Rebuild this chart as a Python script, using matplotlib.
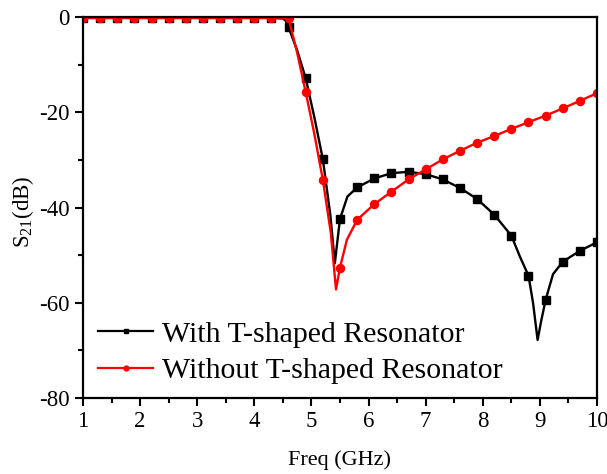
import numpy as np
import matplotlib
matplotlib.use("Agg")
import matplotlib.pyplot as plt
from matplotlib.lines import Line2D
from matplotlib.ticker import MultipleLocator

plt.rcParams['font.family'] = ['Liberation Serif', 'DejaVu Serif']
plt.rcParams['mathtext.fontset'] = 'custom'
plt.rcParams['mathtext.rm'] = 'Liberation Serif'
plt.rcParams['axes.unicode_minus'] = False

# Marker positions (GHz)
marker_freq = [1.0, 1.3, 1.6, 1.9, 2.2, 2.5, 2.8, 3.1, 3.4, 3.7, 4.0, 4.3,
               4.6, 4.9, 5.2, 5.5, 5.8, 6.1, 6.4, 6.7, 7.0, 7.3, 7.6, 7.9,
               8.2, 8.5, 8.8, 9.1, 9.4, 9.7, 10.0]

# With T-shaped resonator (including dips)
black_freq = [1.0, 1.3, 1.6, 1.9, 2.2, 2.5, 2.8, 3.1, 3.4, 3.7, 4.0, 4.3,
              4.5, 4.55, 4.6, 4.75, 4.9, 5.05, 5.2, 5.33, 5.41, 5.45, 5.5,
              5.63, 5.8, 6.1, 6.4, 6.7, 7.0, 7.3, 7.6, 7.9, 8.2, 8.5, 8.65,
              8.8, 8.88, 8.96, 9.02, 9.1, 9.23, 9.4, 9.7, 10.0]
black_db = [-0.2, -0.2, -0.2, -0.2, -0.2, -0.2, -0.2, -0.2, -0.2, -0.2, -0.2, -0.2,
            -0.3, -0.8, -2.2, -7.0, -12.9, -21.0, -29.9, -41.5, -51.7, -47.5, -42.4,
            -37.7, -35.8, -33.9, -32.8, -32.5, -33.0, -34.1, -35.9, -38.2, -41.5, -45.9, -50.3,
            -54.3, -60.0, -67.8, -64.0, -59.4, -54.0, -51.4, -49.1, -47.3]

# Without T-shaped resonator
red_freq = [1.0, 1.3, 1.6, 1.9, 2.2, 2.5, 2.8, 3.1, 3.4, 3.7, 4.0, 4.3,
            4.6, 4.75, 4.9, 5.05, 5.2, 5.34, 5.43, 5.5, 5.62, 5.8, 6.1, 6.4,
            6.7, 7.0, 7.3, 7.6, 7.9, 8.2, 8.5, 8.8, 9.1, 9.4, 9.7, 10.0]
red_db = [-0.2, -0.2, -0.2, -0.2, -0.2, -0.2, -0.2, -0.2, -0.2, -0.2, -0.2, -0.2,
          -0.3, -7.5, -15.8, -24.5, -34.2, -45.4, -57.2, -52.6, -46.8, -42.6, -39.3, -36.7,
          -34.1, -32.0, -29.9, -28.1, -26.4, -25.0, -23.5, -22.1, -20.7, -19.2, -17.6, -16.0]

labels = ["With T-shaped Resonator", "Without T-shaped Resonator"]
x_ticks = [1, 2, 3, 4, 5, 6, 7, 8, 9, 10]
y_ticks = [0, -20, -40, -60, -80]

fig = plt.figure(figsize=(6.07, 4.74), dpi=100)
ax = fig.add_axes([83/607, 1-398/474, 514/607, 381/474])

bmask = np.isin(np.round(black_freq, 2), np.round(marker_freq, 2))
rmask = np.isin(np.round(red_freq, 2), np.round(marker_freq, 2))

ax.plot(black_freq, black_db, color='black', lw=1.7, marker='s', ms=5.3,
        markevery=list(bmask))
ax.plot(red_freq, red_db, color='#ff0000', lw=1.7, marker='o', ms=5.8,
        markevery=list(rmask))

ax.set_xlim(1, 10)
ax.set_ylim(-80, 0)
ax.set_xticks(x_ticks)
ax.set_yticks(y_ticks)
ax.xaxis.set_minor_locator(MultipleLocator(0.5))
ax.yaxis.set_minor_locator(MultipleLocator(10))
ax.tick_params(which='both', direction='out', width=1.5, labelsize=16.5,
               top=False, right=False)
ax.tick_params(which='major', length=6)
ax.tick_params(which='minor', length=3.5)
for s in ax.spines.values():
    s.set_linewidth(1.6)

ax.set_xlabel("Freq (GHz)", fontsize=16, labelpad=13)
ax.set_ylabel("S$_{21}$(dB)", fontsize=16.5)
ax.yaxis.set_label_coords(-0.092, 0.49)

handles = [Line2D([], [], color='black', lw=1.6, marker='s', ms=3),
           Line2D([], [], color='#ff0000', lw=1.6, marker='o', ms=3.5)]
ax.legend(handles, labels, loc='upper left', bbox_to_anchor=(0.029, 0.203),
          frameon=False, fontsize=21.5, borderpad=0, borderaxespad=0,
          handlelength=1.85, handletextpad=0.3, labelspacing=0.33)

fig.savefig("out.png", dpi=100)
